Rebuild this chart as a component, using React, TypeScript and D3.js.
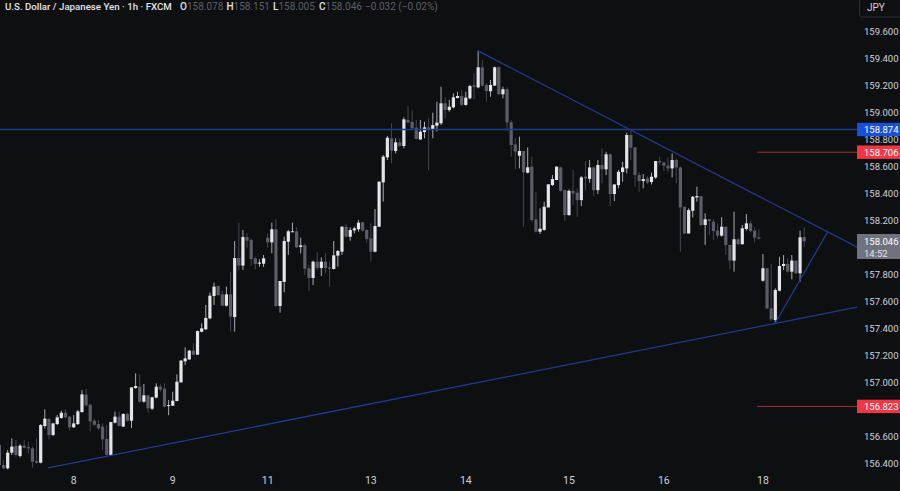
import { useEffect, useRef } from 'react';
import * as d3 from 'd3';

const WIDTH = 900;
const HEIGHT = 491;

// hourly candles
const opens = [
  156.537,156.389,156.364,156.48,156.53,156.455,156.532,156.522,156.512,156.418,
  156.406,156.678,156.732,156.611,156.692,156.737,156.776,156.747,156.668,156.692,
  156.781,156.91,156.836,156.717,156.692,156.673,156.581,156.463,156.702,156.747,
  156.673,156.767,156.717,156.959,156.969,156.858,156.905,156.806,156.888,156.969,
  156.954,156.826,156.828,156.863,157.001,157.157,157.171,157.236,157.206,157.376,
  157.394,157.475,157.641,157.715,157.653,157.569,157.653,157.485,157.922,157.866,
  158.078,158.056,157.92,157.88,157.88,158.073,158.038,158.135,157.567,157.745,
  158.043,158.115,158.12,158.004,158.016,157.846,157.774,157.895,157.848,157.895,
  157.853,157.841,157.94,157.969,158.154,158.08,158.127,158.135,158.187,158.13,
  158.068,157.969,158.154,158.483,158.668,158.809,158.715,158.779,158.752,158.944,
  158.93,158.888,158.801,158.855,158.89,158.875,158.902,158.92,159.068,159.018,
  159.038,159.107,159.122,159.056,159.105,159.201,159.186,159.335,159.204,159.157,
  159.199,159.335,159.135,159.172,158.927,158.764,158.68,158.715,158.554,158.599,
  158.209,158.117,158.13,158.297,158.463,158.5,158.593,158.425,158.24,158.42,
  158.406,158.351,158.524,158.509,158.593,158.425,158.611,158.579,158.69,158.396,
  158.462,158.559,158.586,158.833,158.742,158.537,158.492,158.512,158.485,158.519,
  158.64,158.63,158.606,158.586,158.648,158.593,158.302,158.104,158.272,158.371,
  158.381,158.167,158.209,158.191,158.125,158.088,158.154,158.019,157.903,158.061,
  158.024,158.137,158.179,158.125,158.075,157.754,157.846,157.549,157.463,157.68,
  157.863,157.878,157.821,157.903,157.809,158.078,
];
const highs = [
  156.544,156.426,156.5,156.586,156.574,156.544,156.574,156.562,156.525,156.586,
  156.692,156.801,156.732,156.702,156.759,156.791,156.801,156.752,156.759,156.796,
  156.944,156.952,156.836,156.734,156.722,156.697,156.685,156.707,156.784,156.784,
  156.771,156.776,156.964,157.068,157.063,156.989,156.907,156.895,156.994,156.989,
  156.994,156.87,156.932,157.06,157.167,157.26,157.241,157.29,157.384,157.438,
  157.574,157.666,157.74,157.72,157.68,157.71,157.819,158.048,158.184,158.13,
  158.105,158.068,157.932,157.913,157.945,158.105,158.184,158.209,157.752,158.08,
  158.13,158.184,158.15,158.073,158.031,157.871,157.903,157.964,157.927,157.957,
  157.895,158.048,157.982,158.159,158.174,158.15,158.154,158.204,158.192,158.135,
  158.179,158.285,158.488,158.685,158.826,158.92,158.809,158.809,158.964,159.048,
  159.018,158.944,158.944,158.932,158.957,158.999,159.08,159.191,159.112,159.093,
  159.142,159.154,159.167,159.154,159.204,159.29,159.458,159.389,159.216,159.241,
  159.34,159.345,159.191,159.186,158.944,158.809,158.821,158.715,158.742,158.673,
  158.414,158.29,158.339,158.468,158.537,158.599,158.6,158.43,158.43,158.574,
  158.438,158.529,158.64,158.648,158.6,158.648,158.734,158.709,158.697,158.467,
  158.574,158.635,158.85,158.875,158.742,158.561,158.544,158.529,158.554,158.64,
  158.672,158.63,158.667,158.697,158.66,158.6,158.302,158.29,158.381,158.45,
  158.381,158.253,158.209,158.209,158.179,158.224,158.154,158.019,158.265,158.068,
  158.167,158.248,158.199,158.15,158.135,157.952,157.846,157.878,157.698,157.932,
  157.944,157.92,157.944,157.903,158.125,158.151,
];
const lows = [
  156.376,156.359,156.357,156.463,156.45,156.445,156.512,156.475,156.369,156.401,
  156.401,156.66,156.579,156.604,156.685,156.732,156.734,156.643,156.663,156.685,
  156.776,156.821,156.636,156.678,156.648,156.5,156.46,156.455,156.697,156.673,
  156.673,156.71,156.663,156.954,156.85,156.85,156.776,156.796,156.883,156.932,
  156.816,156.757,156.826,156.86,156.999,157.13,157.167,157.204,157.206,157.371,
  157.389,157.468,157.574,157.641,157.567,157.562,157.377,157.377,157.829,157.833,
  157.994,157.863,157.838,157.858,157.856,158.0,157.957,157.557,157.517,157.668,
  157.945,158.115,157.996,157.957,157.796,157.68,157.722,157.833,157.789,157.809,
  157.71,157.838,157.858,157.945,158.073,158.051,158.105,158.117,158.117,158.036,
  157.895,157.964,158.154,158.34,158.648,158.623,158.697,158.747,158.735,158.92,
  158.875,158.801,158.796,158.809,158.574,158.809,158.858,158.907,158.957,159.006,
  159.031,159.105,159.051,159.051,159.098,159.098,159.179,159.191,159.08,159.117,
  159.199,159.13,159.105,158.865,158.673,158.579,158.586,158.154,158.549,158.191,
  158.11,158.1,158.125,158.297,158.456,158.5,158.413,158.196,158.235,158.314,
  158.228,158.307,158.425,158.48,158.381,158.396,158.475,158.537,158.307,158.344,
  158.438,158.487,158.549,158.648,158.45,158.413,158.438,158.47,158.467,158.509,
  158.611,158.566,158.561,158.519,158.475,157.969,158.1,158.104,158.223,158.339,
  158.159,158.019,158.093,158.056,158.068,158.08,157.945,157.841,157.821,158.019,
  158.024,158.125,158.112,158.038,158.06,157.747,157.544,157.458,157.443,157.675,
  157.833,157.814,157.764,157.804,157.747,158.005,
];
const closes = [
  156.389,156.364,156.48,156.525,156.463,156.532,156.517,156.512,156.413,156.406,
  156.685,156.732,156.611,156.697,156.742,156.776,156.742,156.668,156.697,156.786,
  156.912,156.831,156.712,156.687,156.66,156.579,156.465,156.707,156.747,156.678,
  156.767,156.717,156.964,156.974,156.858,156.905,156.809,156.89,156.969,156.949,
  156.821,156.833,156.865,157.006,157.162,157.179,157.236,157.206,157.381,157.401,
  157.478,157.643,157.71,157.648,157.569,157.653,157.488,157.922,157.866,158.078,
  158.051,157.915,157.878,157.888,157.92,158.038,158.135,157.567,157.752,158.048,
  158.12,158.12,158.001,158.016,157.843,157.774,157.895,157.848,157.895,157.848,
  157.843,157.942,157.974,158.154,158.08,158.13,158.142,158.184,158.125,158.063,
  157.969,158.159,158.488,158.673,158.813,158.717,158.779,158.752,158.949,158.927,
  158.883,158.804,158.858,158.89,158.875,158.907,158.925,159.068,159.018,159.043,
  159.112,159.122,159.056,159.11,159.196,159.191,159.335,159.199,159.159,159.204,
  159.335,159.135,159.172,158.927,158.759,158.71,158.715,158.557,158.594,158.204,
  158.117,158.139,158.302,158.468,158.507,158.599,158.42,158.24,158.42,158.4,
  158.351,158.519,158.512,158.593,158.425,158.611,158.579,158.69,158.396,158.467,
  158.561,158.593,158.833,158.739,158.537,158.492,158.507,158.482,158.524,158.64,
  158.63,158.606,158.586,158.648,158.593,158.297,158.104,158.277,158.376,158.381,
  158.166,158.209,158.196,158.122,158.088,158.154,158.019,157.903,158.061,158.024,
  158.142,158.179,158.122,158.073,158.065,157.846,157.549,157.468,157.685,157.863,
  157.878,157.821,157.903,157.809,158.075,158.046,
];

// 158.000 and 156.800 sit behind the price tags, so they are not listed
const priceTicks = [
  159.6, 159.4, 159.2, 159.0, 158.8, 158.6, 158.4, 158.2,
  157.8, 157.6, 157.4, 157.2, 157.0, 156.6, 156.4,
];
const dayLabels = ['8', '9', '11', '13', '14', '15', '16', '18'];
const dayBars = [18, 42, 65, 90, 113, 138, 161, 185];

// drawn levels and trendlines: [bar, price] pairs
const resistance = 158.874;
const upperLevel = 158.706;
const lowerLevel = 156.823;
const levelStartBar = 183.6;
const lastPrice = 158.046;
const countdown = '14:52';
const fallingTrend = [[116, 159.456], [208, 158.0]];
const risingTrend = [[11.77, 156.367], [208, 157.559]];
const steepTrend = [[188, 157.441], [200.8, 158.122]];

const titleText = 'U.S. Dollar / Japanese Yen · 1h · FXCM';
const ohlcLabels = ['O', 'H', 'L', 'C'];
const ohlcValues = ['158.078', '158.151', '158.005', '158.046'];
const ohlcStarts = [180, 226.5, 273, 319];
const changeText = '−0.032 (−0.02%)';

const BG = '#0e0f11';
const UP = '#e4e5ea';
const DOWN = '#5b5e69';
const UP_WICK = '#a9abb2';
const DOWN_WICK = '#44464f';
const TREND = '#1f3c8c';
const RED_LINE = '#a52f3a';
const AXIS_TEXT = '#cfd2da';
const FONT = 'Roboto, sans-serif';
const PLOT_RIGHT = 857;
const SCALE_FONT = '9.5px';

export default function App() {
  const svgRef = useRef<SVGSVGElement>(null);

  useEffect(() => {
    if (!svgRef.current) return;
    const svg = d3.select(svgRef.current);
    svg.selectAll('*').remove();

    const x = d3.scaleLinear().domain([0, 195]).range([-0.57, 804.2]);
    const y = d3.scaleLinear().domain([156.4, 159.6]).range([463.5, 31.5]);

    svg.append('rect').attr('width', WIDTH).attr('height', HEIGHT).attr('fill', BG);

    svg.append('clipPath').attr('id', 'plot').append('rect').attr('width', PLOT_RIGHT).attr('height', HEIGHT);
    const plot = svg.append('g').attr('clip-path', 'url(#plot)');

    const bars = d3.range(opens.length);
    plot
      .selectAll('line.wick')
      .data(bars)
      .join('line')
      .attr('class', 'wick')
      .attr('x1', (i) => x(i))
      .attr('x2', (i) => x(i))
      .attr('y1', (i) => y(highs[i]))
      .attr('y2', (i) => y(lows[i]))
      .attr('stroke', (i) => (closes[i] >= opens[i] ? UP_WICK : DOWN_WICK))
      .attr('stroke-width', 1);
    plot
      .selectAll('rect.body')
      .data(bars)
      .join('rect')
      .attr('class', 'body')
      .attr('x', (i) => x(i) - 1.6)
      .attr('width', 3.2)
      .attr('y', (i) => y(Math.max(opens[i], closes[i])))
      .attr('height', (i) => Math.max(1, Math.abs(y(opens[i]) - y(closes[i]))))
      .attr('fill', (i) => (closes[i] >= opens[i] ? UP : DOWN));

    const trend = d3
      .line<number[]>()
      .x((d) => x(d[0]))
      .y((d) => y(d[1]));
    [fallingTrend, risingTrend, steepTrend].forEach((pts) => {
      plot.append('path').attr('d', trend(pts)).attr('fill', 'none').attr('stroke', TREND).attr('stroke-width', 1.3);
    });
    plot
      .append('line')
      .attr('x1', 0)
      .attr('x2', PLOT_RIGHT)
      .attr('y1', y(resistance))
      .attr('y2', y(resistance))
      .attr('stroke', TREND)
      .attr('stroke-width', 1.6);
    [upperLevel, lowerLevel].forEach((p) => {
      plot
        .append('line')
        .attr('x1', x(levelStartBar))
        .attr('x2', PLOT_RIGHT)
        .attr('y1', y(p))
        .attr('y2', y(p))
        .attr('stroke', RED_LINE)
        .attr('stroke-width', 1);
    });

    // right price scale
    const axis = d3
      .axisRight(y)
      .tickValues(priceTicks)
      .tickSize(0)
      .tickPadding(0)
      .tickFormat((d) => d3.format('.3f')(d as number));
    const axisG = svg.append('g').attr('transform', 'translate(864,0)').call(axis);
    axisG.select('.domain').remove();
    axisG.selectAll('text').attr('fill', AXIS_TEXT).style('font-family', FONT).style('font-size', SCALE_FONT);

    // time axis
    svg
      .selectAll('text.day')
      .data(dayLabels)
      .join('text')
      .attr('class', 'day')
      .attr('x', (_, i) => x(dayBars[i]))
      .attr('y', 484)
      .attr('text-anchor', 'middle')
      .attr('fill', AXIS_TEXT)
      .style('font-family', FONT)
      .style('font-size', '10.5px')
      .text((d) => d);

    // price tags on the scale
    const tag = (p: number, fill: string) => {
      svg
        .append('rect')
        .attr('x', PLOT_RIGHT)
        .attr('y', y(p) - 6.7)
        .attr('width', WIDTH - PLOT_RIGHT)
        .attr('height', 13.4)
        .attr('fill', fill);
      svg
        .append('text')
        .attr('x', 864)
        .attr('y', y(p) + 3.4)
        .attr('fill', '#ffffff')
        .style('font-family', FONT)
        .style('font-size', SCALE_FONT)
        .text(d3.format('.3f')(p));
    };
    tag(resistance, '#1c4fd8');
    tag(upperLevel, '#f23645');
    tag(lowerLevel, '#f23645');

    svg
      .append('rect')
      .attr('x', PLOT_RIGHT)
      .attr('y', y(lastPrice) - 7.3)
      .attr('width', WIDTH - PLOT_RIGHT)
      .attr('height', 25)
      .attr('fill', '#70737e');
    svg
      .append('text')
      .attr('x', 864)
      .attr('y', y(lastPrice) + 3.4)
      .attr('fill', '#ffffff')
      .style('font-family', FONT)
      .style('font-size', SCALE_FONT)
      .text(d3.format('.3f')(lastPrice));
    svg
      .append('text')
      .attr('x', 864)
      .attr('y', y(lastPrice) + 15.4)
      .attr('fill', '#e0e1e6')
      .style('font-family', FONT)
      .style('font-size', SCALE_FONT)
      .text(countdown);

    // currency box
    svg
      .append('rect')
      .attr('x', 859.5)
      .attr('y', -5)
      .attr('width', 50)
      .attr('height', 22)
      .attr('rx', 3)
      .attr('fill', BG)
      .attr('stroke', '#2c2e36');
    svg
      .append('text')
      .attr('x', 867)
      .attr('y', 10.5)
      .attr('fill', AXIS_TEXT)
      .style('font-family', FONT)
      .style('font-size', '10px')
      .text('JPY');

    // header
    svg
      .append('text')
      .attr('x', 5)
      .attr('y', 10)
      .attr('fill', '#e2e4e9')
      .style('font-family', FONT)
      .style('font-size', '9.7px')
      .style('font-weight', 500)
      .text(titleText);
    ohlcLabels.forEach((label, i) => {
      const t = svg
        .append('text')
        .attr('x', ohlcStarts[i])
        .attr('y', 10)
        .style('font-family', FONT)
        .style('font-size', '10px');
      t.append('tspan').attr('fill', '#e2e4e9').style('font-weight', 500).text(label);
      t.append('tspan').attr('fill', '#5c5f69').text(ohlcValues[i]);
    });
    svg
      .append('text')
      .attr('x', 365)
      .attr('y', 10)
      .attr('fill', '#5c5f69')
      .style('font-family', FONT)
      .style('font-size', '10px')
      .text(changeText);
  }, []);

  return (
    <svg
      ref={svgRef}
      width={WIDTH}
      height={HEIGHT}
      viewBox={`0 0 ${WIDTH} ${HEIGHT}`}
      style={{ position: 'absolute', left: 0, top: 0, display: 'block' }}
    />
  );
}
